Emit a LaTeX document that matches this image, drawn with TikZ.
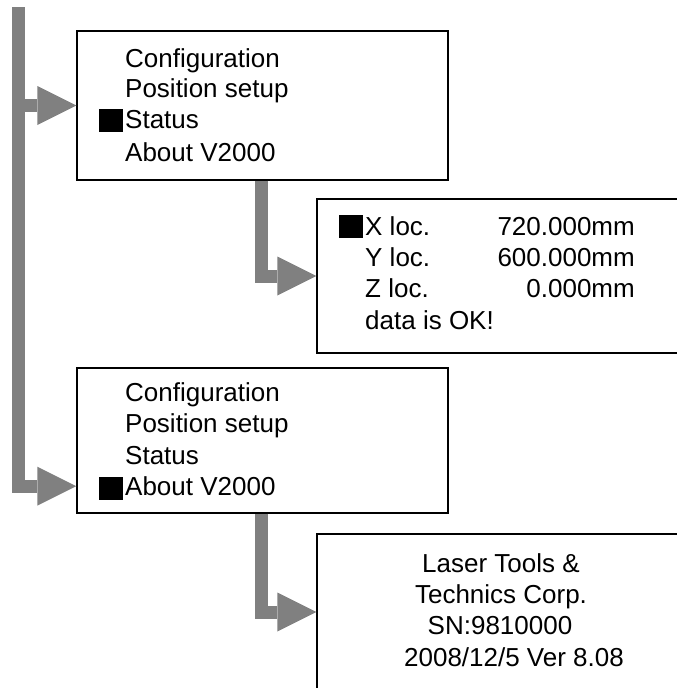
\documentclass[tikz,border=0pt]{standalone}
\usepackage{fontspec}
\setmainfont{Liberation Sans}
\usetikzlibrary{arrows.meta}
\definecolor{arrowgray}{RGB}{128,128,128}
\begin{document}
\begin{tikzpicture}[x=1pt,y=-1pt,
  box/.style={draw=black, line width=1.4pt, rectangle, inner sep=0pt},
  txt/.style={inner sep=0pt, anchor=base west, font=\fontsize{26}{26}\selectfont},
  ctxt/.style={inner sep=0pt, anchor=base, font=\fontsize{26}{26}\selectfont},
  val/.style={inner sep=0pt, anchor=base east, font=\fontsize{26}{26}\selectfont},
  sq/.style={fill=black, minimum width=24pt, minimum height=23pt, inner sep=0pt, anchor=north west},
  flow/.style={draw=arrowgray, line width=13pt, line cap=butt, line join=miter,
    -{Triangle[length=39pt,width=39pt,line width=0pt]}}
]
\useasboundingbox (0,0) rectangle (677,688);
\clip (0,0) rectangle (677,688);

% boxes
\node[box, minimum width=371pt, minimum height=149pt] (b1) at (262.5,105.5) {};
\node[box, minimum width=368pt, minimum height=154pt] (b2) at (501,276) {};
\node[box, minimum width=371pt, minimum height=145pt] (b3) at (262.5,440.5) {};
\node[box, minimum width=368pt, minimum height=156pt] (b4) at (501,612) {};

% box 1 text
\node[txt] (c1) at (125,67) {Configuration};
\node[txt] (p1) at (125,97.5) {Position setup};
\node[sq] (q1) at (99,109) {};
\node[txt] (s1) at (125,128.5) {Status};
\node[txt] (a1) at (125,161) {About V2000};

% box 2 text
\node[sq] (q2) at (339,215) {};
\node[txt] (x2) at (365,235) {X loc.};
\node[val] (xv) at (635,235) {720.000mm};
\node[txt] (y2) at (365,266.5) {Y loc.};
\node[val] (yv) at (635,266.5) {600.000mm};
\node[txt] (z2) at (365,297.5) {Z loc.};
\node[val] (zv) at (635,297.5) {0.000mm};
\node[txt] (d2) at (365,329) {data is OK!};

% box 3 text
\node[txt] (c3) at (125,401) {Configuration};
\node[txt] (p3) at (125,432.5) {Position setup};
\node[txt] (s3) at (125,464) {Status};
\node[sq] (q3) at (99,477) {};
\node[txt] (a3) at (125,495.5) {About V2000};

% box 4 text
\node[ctxt] (l4) at (501,572) {Laser Tools \&};
\node[ctxt] (t4) at (501,603) {Technics Corp.};
\node[ctxt] (n4) at (500,634) {SN:9810000};
\node[ctxt] (v4) at (514,666) {2008/12/5 Ver 8.08};

% arrows
\coordinate (top) at (18.5,7);
\draw[flow] (top) |- (b3.west |- a3);
\draw[flow] (top |- b1.west) -- (b1.west);
\draw[flow] ([xshift=185.5pt]b1.south west) |- (b2.west);
\draw[flow] ([xshift=185.5pt]b3.south west) |- (b4.west);
\end{tikzpicture}
\end{document}
